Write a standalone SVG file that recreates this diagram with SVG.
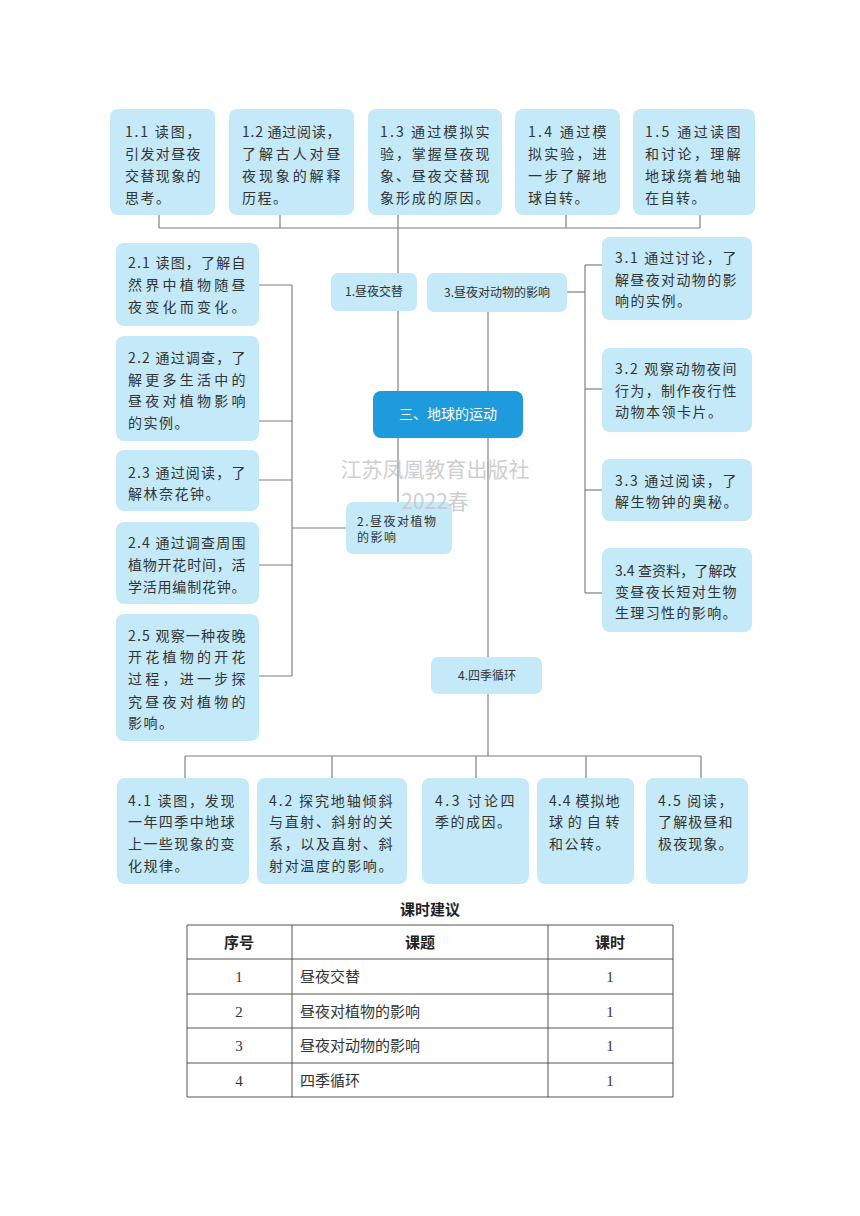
<svg xmlns="http://www.w3.org/2000/svg" width="860" height="1216" viewBox="0 0 860 1216">
<style>
.bx{fill:#c4e9f8;}
.ctr{fill:#1e9bdc;}
.t{font-family:"Noto Sans CJK SC","Liberation Serif",serif;font-size:14px;fill:#333;letter-spacing:1.5px;}
.s{font-family:"Noto Sans CJK SC","Liberation Serif",serif;font-size:12px;fill:#333;}
.ct{font-family:"Noto Sans CJK SC","Liberation Sans",sans-serif;font-size:14px;fill:#fff;}
.wm{font-family:"Noto Sans CJK SC","Liberation Sans",sans-serif;font-size:21px;fill:#c8c8c8;fill-opacity:0.9;}
.cn line,.cn polyline{stroke:#7f7f7f;stroke-width:1.2;fill:none;}
.tb line{stroke:#555;stroke-width:1;}
.th{font-family:"Noto Sans CJK SC","Liberation Sans",sans-serif;font-size:15px;font-weight:bold;fill:#222;}
.td{font-family:"Liberation Serif","Noto Sans CJK SC",serif;font-size:15px;fill:#333;}
</style>
<rect width="860" height="1216" fill="#fff"/>

<g id="connectors" class="cn">
<line x1="159" y1="215" x2="159" y2="228"/>
<line x1="280" y1="215" x2="280" y2="228"/>
<line x1="398" y1="215" x2="398" y2="228"/>
<line x1="566" y1="215" x2="566" y2="228"/>
<line x1="700" y1="215" x2="700" y2="228"/>
<line x1="159" y1="228" x2="700" y2="228"/>
<line x1="398" y1="228" x2="398" y2="502"/>
<line x1="488" y1="312" x2="488" y2="756"/>
<line x1="567" y1="292" x2="585" y2="292"/>
<line x1="585" y1="265" x2="585" y2="593"/>
<line x1="585" y1="265" x2="602" y2="265"/>
<line x1="585" y1="389" x2="602" y2="389"/>
<line x1="585" y1="490" x2="602" y2="490"/>
<line x1="585" y1="593" x2="602" y2="593"/>
<line x1="292" y1="285" x2="292" y2="676"/>
<line x1="259" y1="285" x2="292" y2="285"/>
<line x1="259" y1="421" x2="292" y2="421"/>
<line x1="259" y1="480" x2="292" y2="480"/>
<line x1="259" y1="565" x2="292" y2="565"/>
<line x1="259" y1="676" x2="292" y2="676"/>
<line x1="292" y1="528" x2="346" y2="528"/>
<line x1="185" y1="756" x2="701" y2="756"/>
<line x1="185" y1="756" x2="185" y2="778"/>
<line x1="332" y1="756" x2="332" y2="778"/>
<line x1="476" y1="756" x2="476" y2="778"/>
<line x1="586" y1="756" x2="586" y2="778"/>
<line x1="701" y1="756" x2="701" y2="778"/>
</g>

<!-- top row -->
<g id="n1_1"><rect class="bx" x="110" y="109" width="105" height="106" rx="8"/>
<text class="t"><tspan x="125" y="137" textLength="77" lengthAdjust="spacing">1.1 读图，</tspan><tspan x="125" y="159" textLength="77" lengthAdjust="spacing">引发对昼夜</tspan><tspan x="125" y="181" textLength="77" lengthAdjust="spacing">交替现象的</tspan><tspan x="125" y="203">思考。</tspan></text></g>
<g id="n1_2"><rect class="bx" x="229" y="109" width="125" height="106" rx="8"/>
<text class="t"><tspan x="242" y="137" textLength="100" lengthAdjust="spacing">1.2 通过阅读，</tspan><tspan x="242" y="159" textLength="100" lengthAdjust="spacing">了解古人对昼</tspan><tspan x="242" y="181" textLength="100" lengthAdjust="spacing">夜现象的解释</tspan><tspan x="242" y="203">历程。</tspan></text></g>
<g id="n1_3"><rect class="bx" x="368" y="109" width="134" height="106" rx="8"/>
<text class="t"><tspan x="380" y="137" textLength="111" lengthAdjust="spacing">1.3 通过模拟实</tspan><tspan x="380" y="159" textLength="111" lengthAdjust="spacing">验，掌握昼夜现</tspan><tspan x="380" y="181" textLength="111" lengthAdjust="spacing">象、昼夜交替现</tspan><tspan x="380" y="203" textLength="111" lengthAdjust="spacing">象形成的原因。</tspan></text></g>
<g id="n1_4"><rect class="bx" x="515" y="109" width="105" height="106" rx="8"/>
<text class="t"><tspan x="528" y="137" textLength="80" lengthAdjust="spacing">1.4 通过模</tspan><tspan x="528" y="159" textLength="80" lengthAdjust="spacing">拟实验，进</tspan><tspan x="528" y="181" textLength="80" lengthAdjust="spacing">一步了解地</tspan><tspan x="528" y="203">球自转。</tspan></text></g>
<g id="n1_5"><rect class="bx" x="633" y="109" width="122" height="106" rx="8"/>
<text class="t"><tspan x="645" y="137" textLength="97" lengthAdjust="spacing">1.5 通过读图</tspan><tspan x="645" y="159" textLength="97" lengthAdjust="spacing">和讨论，理解</tspan><tspan x="645" y="181" textLength="97" lengthAdjust="spacing">地球绕着地轴</tspan><tspan x="645" y="203">在自转。</tspan></text></g>

<!-- section nodes -->
<g id="n1"><rect class="bx" x="331" y="273" width="86" height="38" rx="7"/>
<text class="s" x="374" y="296" text-anchor="middle">1.昼夜交替</text></g>
<g id="n3"><rect class="bx" x="427" y="273" width="140" height="39" rx="7"/>
<text class="s" x="497" y="297" text-anchor="middle">3.昼夜对动物的影响</text></g>
<g id="center"><rect class="ctr" x="373" y="391" width="150" height="47" rx="8"/>
<text class="ct" x="448" y="419" text-anchor="middle">三、地球的运动</text></g>
<g id="n2"><rect class="bx" x="346" y="502" width="106" height="52" rx="7"/>
<text class="s" letter-spacing="1.5"><tspan x="357" y="526">2.昼夜对植物</tspan><tspan x="357" y="542">的影响</tspan></text></g>
<g id="n4"><rect class="bx" x="431" y="657" width="111" height="37" rx="7"/>
<text class="s" x="487" y="680" text-anchor="middle">4.四季循环</text></g>

<!-- left column -->
<g id="n2_1"><rect class="bx" x="116" y="243" width="143" height="83" rx="8"/>
<text class="t"><tspan x="128" y="268" textLength="119" lengthAdjust="spacing">2.1 读图，了解自</tspan><tspan x="128" y="290" textLength="119" lengthAdjust="spacing">然界中植物随昼</tspan><tspan x="128" y="312" textLength="119" lengthAdjust="spacing">夜变化而变化。</tspan></text></g>
<g id="n2_2"><rect class="bx" x="116" y="336" width="143" height="105" rx="8"/>
<text class="t"><tspan x="128" y="363" textLength="119" lengthAdjust="spacing">2.2 通过调查，了</tspan><tspan x="128" y="385" textLength="119" lengthAdjust="spacing">解更多生活中的</tspan><tspan x="128" y="406" textLength="119" lengthAdjust="spacing">昼夜对植物影响</tspan><tspan x="128" y="428">的实例。</tspan></text></g>
<g id="n2_3"><rect class="bx" x="116" y="450" width="143" height="61" rx="8"/>
<text class="t"><tspan x="128" y="478" textLength="119" lengthAdjust="spacing">2.3 通过阅读，了</tspan><tspan x="128" y="499">解林奈花钟。</tspan></text></g>
<g id="n2_4"><rect class="bx" x="116" y="522" width="143" height="82" rx="8"/>
<text class="t"><tspan x="128" y="548" textLength="119" lengthAdjust="spacing">2.4 通过调查周围</tspan><tspan x="128" y="570" textLength="119" lengthAdjust="spacing">植物开花时间，活</tspan><tspan x="128" y="592" textLength="119" lengthAdjust="spacing">学活用编制花钟。</tspan></text></g>
<g id="n2_5"><rect class="bx" x="116" y="614" width="143" height="127" rx="8"/>
<text class="t"><tspan x="128" y="641" textLength="119" lengthAdjust="spacing">2.5 观察一种夜晚</tspan><tspan x="128" y="662" textLength="119" lengthAdjust="spacing">开花植物的开花</tspan><tspan x="128" y="684" textLength="119" lengthAdjust="spacing">过程，进一步探</tspan><tspan x="128" y="707" textLength="119" lengthAdjust="spacing">究昼夜对植物的</tspan><tspan x="128" y="728">影响。</tspan></text></g>

<!-- right column -->
<g id="n3_1"><rect class="bx" x="602" y="237" width="150" height="83" rx="8"/>
<text class="t"><tspan x="615" y="263" textLength="123" lengthAdjust="spacing">3.1 通过讨论，了</tspan><tspan x="615" y="285" textLength="123" lengthAdjust="spacing">解昼夜对动物的影</tspan><tspan x="615" y="306">响的实例。</tspan></text></g>
<g id="n3_2"><rect class="bx" x="602" y="348" width="150" height="84" rx="8"/>
<text class="t"><tspan x="615" y="374" textLength="123" lengthAdjust="spacing">3.2 观察动物夜间</tspan><tspan x="615" y="396" textLength="123" lengthAdjust="spacing">行为，制作夜行性</tspan><tspan x="615" y="417">动物本领卡片。</tspan></text></g>
<g id="n3_3"><rect class="bx" x="602" y="459" width="150" height="62" rx="8"/>
<text class="t"><tspan x="615" y="486" textLength="123" lengthAdjust="spacing">3.3 通过阅读，了</tspan><tspan x="615" y="507">解生物钟的奥秘。</tspan></text></g>
<g id="n3_4"><rect class="bx" x="602" y="548" width="150" height="84" rx="8"/>
<text class="t"><tspan x="615" y="576" textLength="123" lengthAdjust="spacing">3.4 查资料，了解改</tspan><tspan x="615" y="597" textLength="123" lengthAdjust="spacing">变昼夜长短对生物</tspan><tspan x="615" y="618" textLength="123" lengthAdjust="spacing">生理习性的影响。</tspan></text></g>

<!-- bottom row -->
<g id="n4_1"><rect class="bx" x="117" y="778" width="132" height="106" rx="8"/>
<text class="t"><tspan x="128" y="806" textLength="108" lengthAdjust="spacing">4.1 读图，发现</tspan><tspan x="128" y="827" textLength="108" lengthAdjust="spacing">一年四季中地球</tspan><tspan x="128" y="849" textLength="108" lengthAdjust="spacing">上一些现象的变</tspan><tspan x="128" y="871">化规律。</tspan></text></g>
<g id="n4_2"><rect class="bx" x="257" y="778" width="150" height="106" rx="8"/>
<text class="t"><tspan x="269" y="806" textLength="125" lengthAdjust="spacing">4.2 探究地轴倾斜</tspan><tspan x="269" y="827" textLength="125" lengthAdjust="spacing">与直射、斜射的关</tspan><tspan x="269" y="849" textLength="125" lengthAdjust="spacing">系，以及直射、斜</tspan><tspan x="269" y="871" textLength="125" lengthAdjust="spacing">射对温度的影响。</tspan></text></g>
<g id="n4_3"><rect class="bx" x="422" y="778" width="107" height="106" rx="8"/>
<text class="t"><tspan x="435" y="806" textLength="81" lengthAdjust="spacing">4.3 讨论四</tspan><tspan x="435" y="827">季的成因。</tspan></text></g>
<g id="n4_4"><rect class="bx" x="537" y="778" width="97" height="106" rx="8"/>
<text class="t"><tspan x="549" y="806" textLength="72" lengthAdjust="spacing">4.4 模拟地</tspan><tspan x="549" y="827" textLength="72" lengthAdjust="spacing">球的自转</tspan><tspan x="549" y="849">和公转。</tspan></text></g>
<g id="n4_5"><rect class="bx" x="646" y="778" width="102" height="106" rx="8"/>
<text class="t"><tspan x="658" y="806" textLength="76" lengthAdjust="spacing">4.5 阅读，</tspan><tspan x="658" y="827" textLength="76" lengthAdjust="spacing">了解极昼和</tspan><tspan x="658" y="849" textLength="76" lengthAdjust="spacing">极夜现象。</tspan></text></g>

<!-- watermark drawn on top -->
<g id="watermark"><text class="wm" x="435" y="477" text-anchor="middle">江苏凤凰教育出版社</text>
<text class="wm" x="435" y="509" text-anchor="middle">2022春</text></g>

<!-- table -->
<g id="table">
<text class="th" x="430" y="915" text-anchor="middle" font-size="16">课时建议</text>
<g class="tb">
<line x1="187" y1="925" x2="673" y2="925"/>
<line x1="187" y1="959" x2="673" y2="959"/>
<line x1="187" y1="994" x2="673" y2="994"/>
<line x1="187" y1="1028" x2="673" y2="1028"/>
<line x1="187" y1="1063" x2="673" y2="1063"/>
<line x1="187" y1="1097" x2="673" y2="1097"/>
<line x1="187" y1="925" x2="187" y2="1097"/>
<line x1="292" y1="925" x2="292" y2="1097"/>
<line x1="548" y1="925" x2="548" y2="1097"/>
<line x1="673" y1="925" x2="673" y2="1097"/>
</g>
<text class="th" x="239" y="948" text-anchor="middle">序号</text>
<text class="th" x="420" y="948" text-anchor="middle">课题</text>
<text class="th" x="610" y="948" text-anchor="middle">课时</text>
<text class="td" x="239" y="982" text-anchor="middle">1</text>
<text class="td" x="300" y="982">昼夜交替</text>
<text class="td" x="610" y="982" text-anchor="middle">1</text>
<text class="td" x="239" y="1017" text-anchor="middle">2</text>
<text class="td" x="300" y="1017">昼夜对植物的影响</text>
<text class="td" x="610" y="1017" text-anchor="middle">1</text>
<text class="td" x="239" y="1051" text-anchor="middle">3</text>
<text class="td" x="300" y="1051">昼夜对动物的影响</text>
<text class="td" x="610" y="1051" text-anchor="middle">1</text>
<text class="td" x="239" y="1086" text-anchor="middle">4</text>
<text class="td" x="300" y="1086">四季循环</text>
<text class="td" x="610" y="1086" text-anchor="middle">1</text>
</g>
</svg>
